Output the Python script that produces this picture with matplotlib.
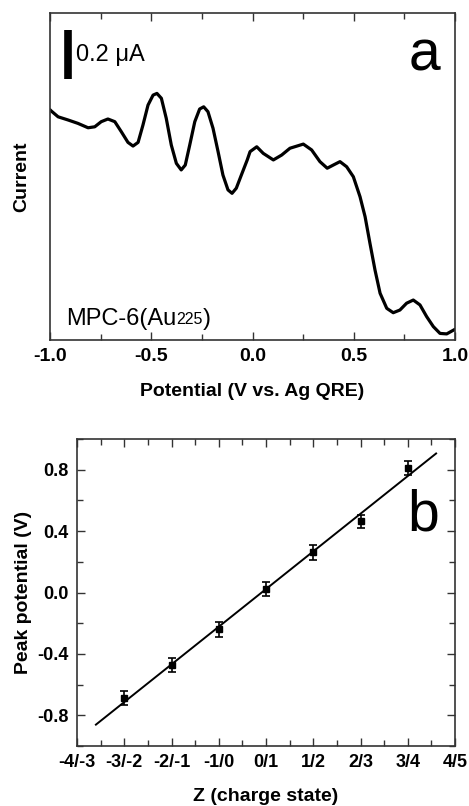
import numpy as np
import matplotlib
matplotlib.use("Agg")
import matplotlib.pyplot as plt
from matplotlib.ticker import MultipleLocator, FixedLocator

plt.rcParams['font.family'] = ['Liberation Sans', 'DejaVu Sans']

# ---- Panel a: DPV trace (potential V, current in uA, arbitrary offset) ----
potential = [-1.000, -0.994, -0.960, -0.911, -0.862, -0.812, -0.779, -0.747, -0.714, -0.680,
             -0.648, -0.615, -0.590, -0.565, -0.541, -0.516, -0.491, -0.472, -0.450, -0.426,
             -0.401, -0.376, -0.352, -0.332, -0.310, -0.285, -0.261, -0.241, -0.220, -0.195,
             -0.170, -0.146, -0.121, -0.101, -0.080, -0.055, -0.026, -0.012, 0.021, 0.053,
             0.103, 0.144, 0.185, 0.251, 0.292, 0.333, 0.369, 0.399, 0.432, 0.465,
             0.498, 0.531, 0.556, 0.580, 0.605, 0.630, 0.663, 0.695, 0.728, 0.761,
             0.794, 0.827, 0.860, 0.893, 0.926, 0.959, 1.000]
current = [0.945, 0.940, 0.916, 0.903, 0.889, 0.871, 0.875, 0.896, 0.907, 0.896,
           0.855, 0.811, 0.796, 0.811, 0.882, 0.964, 1.005, 1.012, 0.992, 0.910,
           0.800, 0.725, 0.698, 0.718, 0.800, 0.896, 0.948, 0.957, 0.937, 0.869,
           0.773, 0.677, 0.616, 0.602, 0.623, 0.677, 0.739, 0.773, 0.793, 0.766,
           0.739, 0.759, 0.787, 0.804, 0.780, 0.732, 0.705, 0.718, 0.732, 0.711,
           0.670, 0.588, 0.506, 0.397, 0.287, 0.192, 0.130, 0.112, 0.123, 0.151,
           0.164, 0.144, 0.096, 0.055, 0.027, 0.025, 0.044]
xticks_a = [-1.0, -0.5, 0.0, 0.5, 1.0]
xtick_labels_a = ['-1.0', '-0.5', '0.0', '0.5', '1.0']
scale_bar = 0.2  # uA

# ---- Panel b: peak potential vs charge state ----
z_pos = [-3, -2, -1, 0, 1, 2, 3]
peak_potential = [-0.689, -0.472, -0.239, 0.022, 0.261, 0.463, 0.811]
peak_err = [0.045, 0.045, 0.048, 0.048, 0.048, 0.045, 0.048]
z_labels = ['-4/-3', '-3/-2', '-2/-1', '-1/0', '0/1', '1/2', '2/3', '3/4', '4/5']
z_ticks = [-4, -3, -2, -1, 0, 1, 2, 3, 4]
yticks_b = [-0.8, -0.4, 0.0, 0.4, 0.8]
ytick_labels_b = ['-0.8', '-0.4', '0.0', '0.4', '0.8']

W, H = 469, 806
fig = plt.figure(figsize=(W / 100, H / 100), dpi=100)

spine_col = '#333333'
lab_fs = 14

# ----- top axes -----
ax1 = fig.add_axes([50 / W, 1 - 340 / H, 405 / W, 327 / H])
ax1.plot(potential, current, color='black', lw=2.3, solid_joinstyle='round',
         solid_capstyle='round')
ax1.set_xlim(-1.0, 1.0)
ax1.set_ylim(0, 1.342)
ax1.xaxis.set_major_locator(FixedLocator(xticks_a))
ax1.set_xticklabels(xtick_labels_a, fontsize=14, fontweight='bold')
ax1.xaxis.set_minor_locator(MultipleLocator(0.25))
ax1.set_yticks([])
ax1.tick_params(axis='x', which='both', direction='in', top=True, bottom=True,
                color=spine_col, width=1.0, pad=6)
ax1.tick_params(axis='x', which='major', length=6)
ax1.tick_params(axis='x', which='minor', length=4)
for s in ax1.spines.values():
    s.set_color(spine_col)
    s.set_linewidth(1.2)
ax1.set_xlabel('Potential (V vs. Ag QRE)', fontsize=lab_fs, fontweight='bold', labelpad=13)
ax1.set_ylabel('Current', fontsize=lab_fs, fontweight='bold', labelpad=14)

# scale bar
ax1.plot([-0.913, -0.913], [1.071, 1.071 + scale_bar], color='black', lw=5.5,
         solid_capstyle='butt')
ax1.text(-0.870, 1.171, '0.2 \u03bcA', fontsize=17, va='center', ha='left')
ax1.text(0.77, 1.105, 'a', fontsize=41, va='baseline', ha='left')

t = ax1.text(-0.92, 0.085, 'MPC-6(Au', fontsize=17, va='center', ha='left')
fig.canvas.draw()
bb = t.get_window_extent().transformed(ax1.transData.inverted())
t2 = ax1.text(bb.x1, bb.y0 + 0.012, '225', fontsize=11.5, va='bottom', ha='left')
fig.canvas.draw()
bb2 = t2.get_window_extent().transformed(ax1.transData.inverted())
ax1.text(bb2.x1, 0.085, ')', fontsize=17, va='center', ha='left')

# ----- bottom axes -----
ax2 = fig.add_axes([77 / W, 1 - 746 / H, 378 / W, 307 / H])
coef = np.polyfit(z_pos, peak_potential, 1)
xf = np.array([-3.6, 3.6])
ax2.plot(xf, np.polyval(coef, xf), color='black', lw=1.4)
ax2.errorbar(z_pos, peak_potential, yerr=peak_err, fmt='s', color='black', ms=4,
             capsize=3, elinewidth=1.2, capthick=1.2)
ax2.set_xlim(-4, 4)
ax2.set_ylim(-1.0, 1.0)
ax2.xaxis.set_major_locator(FixedLocator(z_ticks))
ax2.set_xticklabels(z_labels, fontsize=13, fontweight='bold')
ax2.xaxis.set_minor_locator(MultipleLocator(0.5))
ax2.yaxis.set_major_locator(FixedLocator(yticks_b))
ax2.set_yticklabels(ytick_labels_b, fontsize=13, fontweight='bold')
ax2.yaxis.set_minor_locator(MultipleLocator(0.2))
ax2.tick_params(which='both', direction='in', top=True, right=True, color=spine_col, width=1.0)
ax2.tick_params(which='major', length=6, pad=6)
ax2.tick_params(which='minor', length=4)
for s in ax2.spines.values():
    s.set_color(spine_col)
    s.set_linewidth(1.2)
ax2.set_xlabel('Z (charge state)', fontsize=lab_fs, fontweight='bold', labelpad=12)
ax2.set_ylabel('Peak potential (V)', fontsize=lab_fs, fontweight='bold', labelpad=4)
ax2.text(2.98, 0.407, 'b', fontsize=41, va='baseline', ha='left')

fig.savefig('out.png', dpi=100)
